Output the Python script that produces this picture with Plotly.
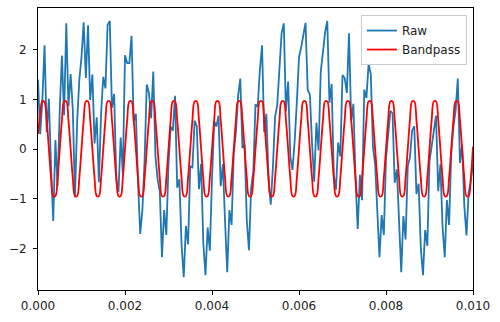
import plotly.graph_objects as go

# sample spacing of both series (seconds)
sample_start = 0.0
sample_step = 0.00005

raw = [
    1.40, 0.30, 0.98, 2.09, 0.34, 1.01, -0.37, -1.45, 0.18, -0.75,
    0.79, 1.88, 0.68, 2.53, 0.86, 1.51, 0.80, -0.97, 0.55, 1.40,
    1.85, 2.55, 1.43, 2.49, 0.99, 1.50, 0.11, 0.64, -0.67, 0.72,
    1.45, 1.22, 2.50, 2.58, 0.83, 1.11, -0.62, -0.87, 0.23, -0.50,
    1.89, 1.73, 1.73, 2.28, 0.56, 0.71, -0.69, -1.71, -1.22, -0.23,
    1.30, 1.13, 0.62, 1.56, -0.16, -0.61, -0.86, -2.18, -1.23, -1.73,
    -0.29, 0.45, 0.37, 1.07, -0.78, -0.61, -1.93, -2.58, -1.55, -1.92,
    -0.35, -0.37, 0.57, 0.46, -0.81, -0.30, -1.89, -2.54, -1.58, -2.05,
    -0.60, 0.56, 0.45, 0.67, -0.75, -0.31, -1.46, -2.48, -1.23, -1.53,
    -0.09, 0.35, 1.07, 1.42, 0.02, 0.09, -1.44, -2.04, -0.78, -0.45,
    0.90, 0.85, 1.58, 2.09, 0.34, 0.71, -0.62, -1.12, -0.37, 0.65,
    0.89, 1.73, 2.33, 2.53, 0.76, 1.36, -0.15, -0.42, 0.15, 0.94,
    1.85, 2.05, 2.33, 2.54, 1.19, 1.10, 0.11, -0.66, 0.53, -0.03,
    1.55, 1.92, 2.35, 2.58, 0.93, 1.31, -0.52, -0.82, 0.13, -0.15,
    1.49, 1.43, 1.13, 2.33, 0.56, 0.91, -0.64, -1.61, -0.52, -1.03,
    1.20, 1.03, 1.72, 1.51, 0.04, -0.31, -1.36, -2.18, -1.33, -1.73,
    -0.19, 0.25, 0.77, 0.72, -0.68, -0.41, -1.63, -2.48, -1.35, -1.82,
    -0.35, -0.17, 0.37, 0.46, -0.91, -0.70, -1.99, -2.54, -1.63, -1.95,
    -0.25, 0.06, 0.35, 0.67, -0.85, -0.31, -1.56, -2.18, -1.03, -1.53,
    -0.09, 0.45, 0.77, 1.42, -0.28, 0.09, -1.14, -1.74, -0.88, -0.65,
    -0.30,
]

bandpass = [
    0.30, 0.70, 0.97, 0.94, 0.58, 0.00, -0.58, -0.95, -0.95, -0.58,
    0.00, 0.58, 0.96, 0.96, 0.58, 0.00, -0.58, -0.95, -0.95, -0.58,
    0.00, 0.58, 0.96, 0.96, 0.58, 0.00, -0.58, -0.95, -0.95, -0.58,
    0.00, 0.58, 0.96, 0.96, 0.58, 0.00, -0.58, -0.95, -0.95, -0.58,
    0.00, 0.58, 0.96, 0.96, 0.58, 0.00, -0.58, -0.95, -0.95, -0.58,
    0.00, 0.58, 0.96, 0.96, 0.58, 0.00, -0.58, -0.95, -0.95, -0.58,
    0.00, 0.58, 0.96, 0.96, 0.58, 0.00, -0.58, -0.95, -0.95, -0.58,
    0.00, 0.58, 0.96, 0.96, 0.58, 0.00, -0.58, -0.95, -0.95, -0.58,
    0.00, 0.58, 0.96, 0.96, 0.58, 0.00, -0.58, -0.95, -0.95, -0.58,
    0.00, 0.58, 0.96, 0.96, 0.58, 0.00, -0.58, -0.95, -0.95, -0.58,
    0.00, 0.58, 0.96, 0.96, 0.58, 0.00, -0.58, -0.95, -0.95, -0.58,
    0.00, 0.58, 0.96, 0.96, 0.58, 0.00, -0.58, -0.95, -0.95, -0.58,
    0.00, 0.58, 0.96, 0.96, 0.58, 0.00, -0.58, -0.95, -0.95, -0.58,
    0.00, 0.58, 0.96, 0.96, 0.58, 0.00, -0.58, -0.95, -0.95, -0.58,
    0.00, 0.58, 0.96, 0.96, 0.58, 0.00, -0.58, -0.95, -0.95, -0.58,
    0.00, 0.58, 0.96, 0.96, 0.58, 0.00, -0.58, -0.95, -0.95, -0.58,
    0.00, 0.58, 0.96, 0.96, 0.58, 0.00, -0.58, -0.95, -0.95, -0.58,
    0.00, 0.58, 0.96, 0.96, 0.58, 0.00, -0.58, -0.95, -0.95, -0.58,
    0.00, 0.58, 0.96, 0.96, 0.58, 0.00, -0.58, -0.95, -0.95, -0.58,
    0.00, 0.58, 0.96, 0.96, 0.58, 0.00, -0.58, -0.95, -0.95, -0.58,
    0.05,
]

x_ticks = [0.000, 0.002, 0.004, 0.006, 0.008, 0.010]
x_tick_labels = ["0.000", "0.002", "0.004", "0.006", "0.008", "0.010"]
y_ticks = [-2, -1, 0, 1, 2]
y_tick_labels = ["\u22122", "\u22121", "0", "1", "2"]

fig = go.Figure()
fig.add_trace(go.Scatter(
    y=raw, x0=sample_start, dx=sample_step, mode="lines", name="Raw",
    line=dict(color="#1f77b4", width=1.8),
))
fig.add_trace(go.Scatter(
    y=bandpass, x0=sample_start, dx=sample_step, mode="lines", name="Bandpass",
    line=dict(color="red", width=1.8, shape="spline", smoothing=1.0),
))

axis_common = dict(
    showline=True, linecolor="black", linewidth=1, mirror=True,
    ticks="outside", ticklen=4, tickwidth=1, tickcolor="black",
    showgrid=False, zeroline=False,
    tickfont=dict(family="DejaVu Sans", size=12, color="#222"),
)

fig.update_layout(
    width=500, height=322,
    margin=dict(l=38, r=27, t=8, b=32),
    paper_bgcolor="white", plot_bgcolor="white",
    font=dict(family="DejaVu Sans", size=12, color="#222"),
    xaxis=dict(range=[0, 0.01], tickvals=x_ticks, ticktext=x_tick_labels,
               ticklabelstandoff=1, **axis_common),
    yaxis=dict(range=[-2.84, 2.84], tickvals=y_ticks, ticktext=y_tick_labels,
               ticklabelstandoff=4, **axis_common),
    legend=dict(
        x=0.986, y=0.975, xanchor="right", yanchor="top",
        bgcolor="rgba(255,255,255,0.8)", bordercolor="#cccccc", borderwidth=1,
        font=dict(family="DejaVu Sans", size=12, color="#222"),
        tracegroupgap=0, itemwidth=30,
    ),
    showlegend=True,
)

fig.write_html("out.html")
